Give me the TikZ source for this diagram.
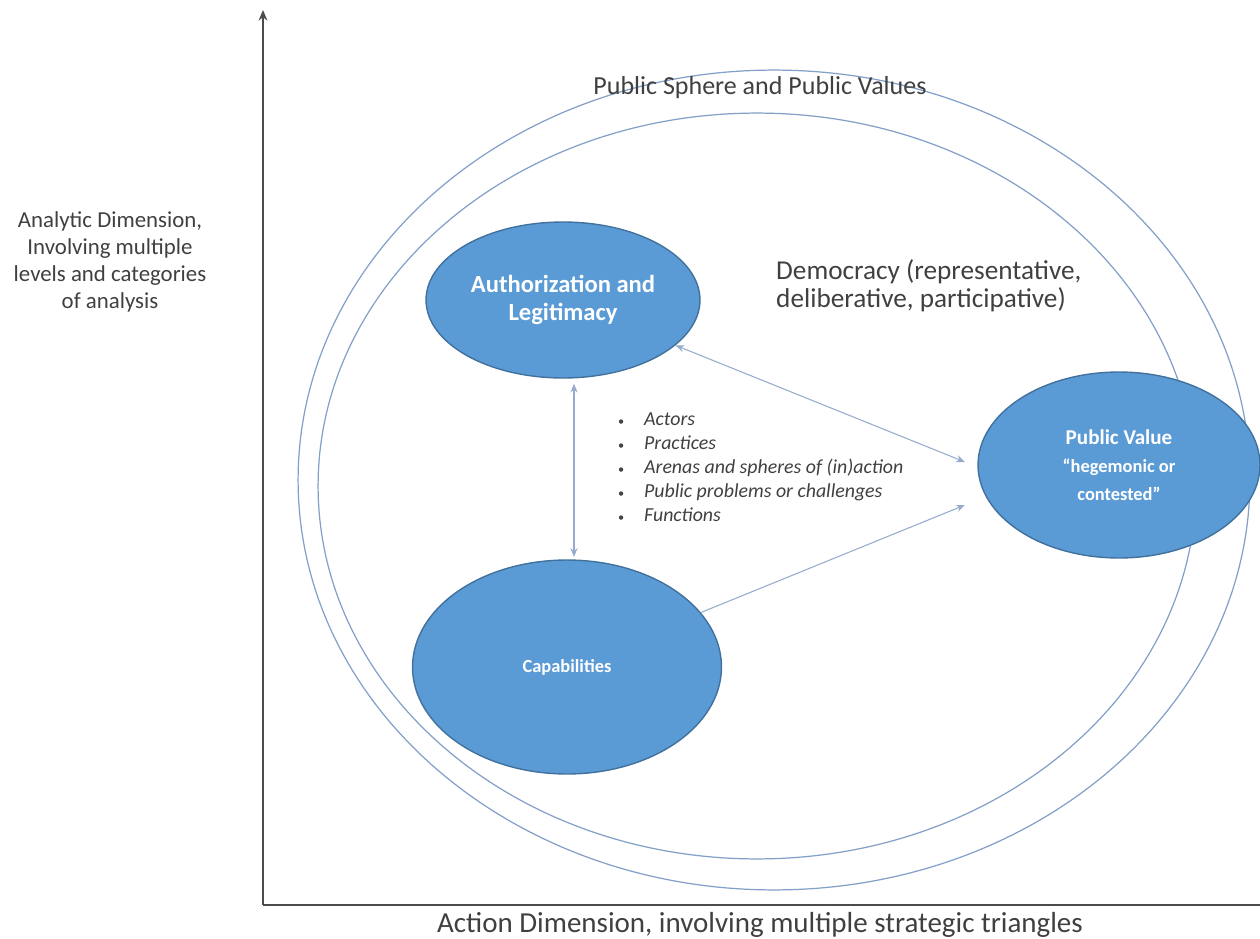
\documentclass[tikz,border=0pt]{standalone}
\usepackage{fontspec}
\setmainfont{Carlito}
\usetikzlibrary{shapes.geometric,arrows.meta}

\definecolor{blobfill}{RGB}{91,155,213}
\definecolor{blobline}{RGB}{65,113,156}
\definecolor{ringline}{RGB}{130,160,200}
\definecolor{linkline}{RGB}{150,170,205}
\definecolor{inktext}{RGB}{64,64,64}

\begin{document}
\begin{tikzpicture}[x=0.02cm,y=-0.02cm]

\tikzstyle{blob}=[ellipse, fill=blobfill, draw=blobline, line width=0.8pt, text=white, font=\bfseries\fontsize{14}{16}\selectfont, align=center, inner sep=0pt]
\tikzstyle{ring}=[ellipse, draw=ringline, line width=0.7pt, inner sep=0pt]
\tikzstyle{label}=[text=inktext]
\tikzstyle{axis}=[-{Stealth[length=6pt,width=5pt]}, line width=1.2pt, gray!60!black]
\tikzstyle{link}=[{Stealth[length=5pt,width=4pt]}-{Stealth[length=5pt,width=4pt]}, line width=0.6pt, linkline]

\useasboundingbox (0,0) rectangle (1260,939);

% axes
\coordinate (origin) at (263,905);
\coordinate (ytop) at (263,10);
\coordinate (xend) at (1260,905);
\draw[axis] (origin) -- (ytop);
\draw[line width=1.2pt, gray!60!black] (origin) -- (xend);

% rings
\node [ring, minimum width=19.04cm, minimum height=16.4cm] (outer) at (774,480) {};
\node [ring, minimum width=17.56cm, minimum height=14.92cm] (inner) at (757,486) {};

% blobs
\node [blob, minimum width=5.48cm, minimum height=3.12cm] (auth) at (563,300) {Authorization and\\Legitimacy};
\node [blob, minimum width=6.18cm, minimum height=4.28cm, font=\bfseries\fontsize{10.5}{12}\selectfont] (capab) at (567,667) {Capabilities};
\node [blob, minimum width=5.64cm, minimum height=3.72cm, font=\bfseries\fontsize{12}{16}\selectfont] (pubval) at (1119,465) {Public Value\\{\fontsize{10.5}{15}\selectfont ``hegemonic or}\\{\fontsize{10.5}{15}\selectfont contested''}};

% labels
\node [label, font=\fontsize{14.8}{16}\selectfont] (sphere) at (760,88) {Public Sphere and Public Values};
\node [label, anchor=north west, align=left, font=\fontsize{15.5}{16}\selectfont] (democ) at (770,253) {Democracy (representative,\\deliberative, participative)};
\node [label, align=center, font=\fontsize{13}{15.3}\selectfont] (analytic) at (110,262) {Analytic Dimension,\\Involving multiple\\levels and categories\\of analysis};
\node [label, font=\fontsize{16.5}{18}\selectfont] (action) at (760,925) {Action Dimension, involving multiple strategic triangles};
\node [label, anchor=north west, align=left, font=\itshape\fontsize{11.3}{13.6}\selectfont] (items) at (612,407)
  {{\upshape\scriptsize\textbullet}\quad Actors\\{\upshape\scriptsize\textbullet}\quad Practices\\{\upshape\scriptsize\textbullet}\quad Arenas and spheres of (in)action\\{\upshape\scriptsize\textbullet}\quad Public problems or challenges\\{\upshape\scriptsize\textbullet}\quad Functions};

% links
\coordinate (pvin1) at (965,462);
\coordinate (pvin2) at (965,505);
\draw[link] (auth.south -| 574,0) ++(0,5) coordinate (auth1) -- (574,557);
\draw[link] (auth) -- (pvin1);
\draw[link, -{Stealth[length=5pt,width=4pt]}] (capab) -- (pvin2);

\end{tikzpicture}
\end{document}
